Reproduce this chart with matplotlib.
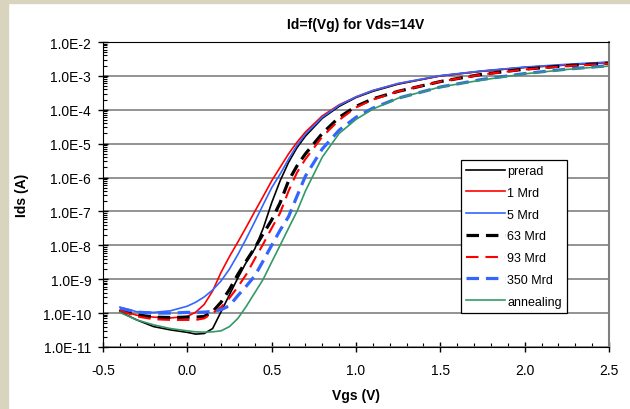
import matplotlib; matplotlib.use("Agg"); import matplotlib.pyplot as plt
import numpy as np
from matplotlib.patches import Rectangle
from matplotlib.ticker import FuncFormatter, MultipleLocator, LogLocator, NullFormatter

plt.rcParams["font.family"] = ["Liberation Sans", "DejaVu Sans"]
plt.rcParams["lines.scale_dashes"] = False

# ═══════ Data ═══════
vgs = [-0.4, -0.3, -0.2, -0.1, 0.0, 0.05, 0.1, 0.15, 0.2, 0.25, 0.3, 0.35, 0.4, 0.45,
       0.5, 0.55, 0.6, 0.65, 0.7, 0.8, 0.9, 1.0, 1.1, 1.25, 1.5, 1.75, 2.0, 2.25, 2.5]

ids_prerad = [1.1e-10, 6.3e-11, 4.0e-11, 3.2e-11, 2.7e-11, 2.4e-11, 2.5e-11, 3.5e-11, 1.1e-10,
              3.5e-10, 1.1e-9, 3.2e-9, 7.9e-9, 3.2e-8, 1.8e-7, 8.0e-7, 2.8e-6, 7.6e-6, 1.66e-5,
              5.6e-5, 1.26e-4, 2.3e-4, 3.5e-4, 5.7e-4, 1.0e-3, 1.38e-3, 1.78e-3, 2.1e-3, 2.5e-3]
ids_1mrd = [1.2e-10, 8.7e-11, 7.6e-11, 7.2e-11, 8.0e-11, 1.07e-10, 1.8e-10, 4.5e-10, 1.6e-9,
            4.7e-9, 1.26e-8, 3.5e-8, 1.0e-7, 2.8e-7, 8.0e-7, 2.0e-6, 5.0e-6, 1.1e-5, 2.2e-5,
            6.6e-5, 1.4e-4, 2.4e-4, 3.7e-4, 5.9e-4, 1.0e-3, 1.38e-3, 1.78e-3, 2.1e-3, 2.5e-3]
ids_5mrd = [1.5e-10, 1.1e-10, 1.05e-10, 1.17e-10, 1.6e-10, 2.1e-10, 3.0e-10, 4.8e-10, 8.9e-10,
            2.0e-9, 5.4e-9, 1.6e-8, 5.0e-8, 1.6e-7, 5.0e-7, 1.26e-6, 3.5e-6, 8.9e-6, 1.9e-5,
            6.0e-5, 1.35e-4, 2.4e-4, 3.7e-4, 6.0e-4, 1.02e-3, 1.41e-3, 1.82e-3, 2.2e-3, 2.57e-3]
ids_63mrd = [1.3e-10, 9.0e-11, 7.6e-11, 7.4e-11, 7.6e-11, 7.6e-11, 8.0e-11, 1.1e-10, 2.1e-10,
             5.0e-10, 1.4e-9, 3.5e-9, 8.5e-9, 2.2e-8, 5.6e-8, 1.8e-7, 8.0e-7, 2.2e-6, 5.0e-6,
             2.0e-5, 6.0e-5, 1.26e-4, 2.1e-4, 3.5e-4, 6.8e-4, 1.12e-3, 1.58e-3, 2.0e-3, 2.35e-3]
ids_93mrd = [1.2e-10, 8.0e-11, 6.6e-11, 6.3e-11, 6.3e-11, 6.3e-11, 7.0e-11, 1.0e-10, 1.5e-10,
             2.8e-10, 6.0e-10, 1.4e-9, 4.0e-9, 1.1e-8, 3.2e-8, 9.0e-8, 4.0e-7, 1.4e-6, 3.5e-6,
             1.6e-5, 5.0e-5, 1.17e-4, 2.0e-4, 3.5e-4, 6.8e-4, 1.1e-3, 1.55e-3, 1.95e-3, 2.3e-3]
ids_350mrd = [1.4e-10, 1.07e-10, 1.0e-10, 1.0e-10, 1.05e-10, 1.05e-10, 1.07e-10, 1.12e-10, 1.26e-10,
              1.66e-10, 3.3e-10, 6.3e-10, 1.26e-9, 3.5e-9, 1.0e-8, 2.8e-8, 7.0e-8, 2.8e-7, 1.1e-6,
              7.0e-6, 2.5e-5, 6.0e-5, 1.12e-4, 2.2e-4, 4.7e-4, 7.9e-4, 1.17e-3, 1.58e-3, 2.0e-3]
ids_annealing = [1.05e-10, 6.3e-11, 4.5e-11, 3.5e-11, 3.0e-11, 2.8e-11, 2.75e-11, 2.8e-11, 3.0e-11,
                 4.0e-11, 7.0e-11, 1.6e-10, 4.0e-10, 1.0e-9, 3.2e-9, 1.0e-8, 3.2e-8, 1.0e-7, 4.0e-7,
                 4.0e-6, 2.0e-5, 5.2e-5, 1.05e-4, 2.2e-4, 4.7e-4, 7.6e-4, 1.15e-3, 1.55e-3, 1.95e-3]

labels = ["prerad", "1 Mrd", "5 Mrd", "63 Mrd", "93 Mrd", "350 Mrd", "annealing"]
series = [ids_prerad, ids_1mrd, ids_5mrd, ids_63mrd, ids_93mrd, ids_350mrd, ids_annealing]

# ═══════ Styles ═══════
colors = ["#000000", "#FF0000", "#3366FF", "#000000", "#FF0000", "#3366FF", "#339966"]
widths = [1.2, 1.2, 1.2, 2.3, 1.5, 2.3, 1.2]
dashed = [False, False, False, True, True, True, False]

fig = plt.figure(figsize=(6.3, 4.1), dpi=100)
fig.patches.append(Rectangle((0, 1 - 4 / 410), 1, 4 / 410, transform=fig.transFigure,
                             color="#D9D4BE", zorder=-10))
fig.patches.append(Rectangle((0, 0), 8 / 630, 1, transform=fig.transFigure,
                             color="#D9D4BE", zorder=-10))

ax = fig.add_axes([103 / 630, 62 / 410, 506 / 630, 305 / 410])

for y, lab, c, lw, d in zip(series, labels, colors, widths, dashed):
    ln, = ax.plot(vgs, y, color=c, lw=lw, label=lab)
    if d:
        ln.set_dashes((9, 5))

ax.set_yscale("log")
ax.set_ylim(1e-11, 1e-2)
ax.set_xlim(-0.5, 2.5)

ax.yaxis.set_major_locator(LogLocator(base=10, numticks=20))
ax.yaxis.set_minor_locator(LogLocator(base=10, subs=np.arange(2, 10), numticks=20))
ax.yaxis.set_minor_formatter(NullFormatter())
ax.yaxis.set_major_formatter(FuncFormatter(lambda v, p: f"1.0E{int(round(np.log10(v)))}"))
ax.xaxis.set_major_locator(MultipleLocator(0.5))
ax.xaxis.set_minor_locator(MultipleLocator(0.1))
ax.xaxis.set_major_formatter(FuncFormatter(lambda v, p: f"{v:.1f}"))

ax.tick_params(which="major", direction="inout", length=7, width=1, labelsize=10)
ax.tick_params(axis="y", which="major", pad=5)
ax.tick_params(axis="x", which="major", pad=8)
ax.tick_params(which="minor", direction="in", length=3, width=0.8)

ax.grid(True, which="major", axis="y", color="#808080", lw=1.2)
ax.set_axisbelow(True)
for s in ["left", "bottom", "top"]:
    ax.spines[s].set_color("#000000")
ax.spines["right"].set_color("#808080")
ax.spines["right"].set_linewidth(1.5)

ax.set_title("Id=f(Vg) for Vds=14V", fontsize=10, fontweight="bold", pad=10)
ax.set_xlabel("Vgs (V)", fontsize=10, fontweight="bold", labelpad=8)
ax.set_ylabel("Ids (A)", fontsize=10, fontweight="bold", labelpad=10)

leg = ax.legend(loc="upper left", bbox_to_anchor=(0.7075, 0.613), borderaxespad=0,
                fontsize=9, handlelength=3.1, handletextpad=0.2, labelspacing=0.78,
                fancybox=False, framealpha=1, edgecolor="#000000", borderpad=0.4)
leg.get_frame().set_linewidth(0.9)

plt.savefig("out.png", dpi=100)
